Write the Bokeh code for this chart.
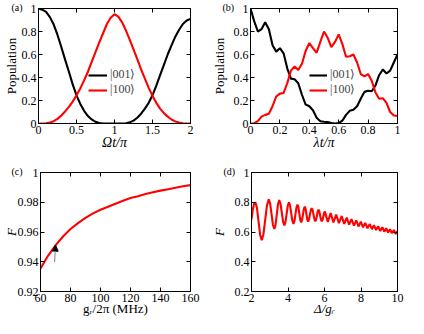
from bokeh.plotting import figure
from bokeh.layouts import column, row
from bokeh.models import (Range1d, LinearAxis, FixedTicker, Legend,
                          LegendItem, Arrow, NormalHead)
from bokeh.embed import file_html
from bokeh.resources import INLINE

SERIF = "Liberation Serif"
RED = "#ff0000"

# ---------------- data ----------------
# (a) population vs Omega t / pi
a_t = [0.00, 0.05, 0.10, 0.15, 0.20, 0.25, 0.30, 0.35, 0.40, 0.45, 0.50,
       0.55, 0.60, 0.65, 0.70, 0.75, 0.80, 0.85, 0.90, 0.95, 1.00,
       1.05, 1.10, 1.15, 1.20, 1.25, 1.30, 1.35, 1.40, 1.45, 1.50,
       1.55, 1.60, 1.65, 1.70, 1.75, 1.80, 1.85, 1.90, 1.95, 2.00]
a_001 = [1.00, 0.99, 0.97, 0.925, 0.86, 0.77, 0.665, 0.555, 0.45, 0.34, 0.245,
         0.17, 0.11, 0.065, 0.035, 0.015, 0.005, 0.0, 0.0, 0.0, 0.0,
         0.0, 0.0, 0.002, 0.01, 0.025, 0.05, 0.085, 0.13, 0.18, 0.245,
         0.33, 0.42, 0.51, 0.60, 0.68, 0.755, 0.815, 0.865, 0.895, 0.91]
a_100 = [0.0, 0.0, 0.002, 0.008, 0.02, 0.04, 0.07, 0.105, 0.145, 0.19, 0.245,
         0.305, 0.375, 0.45, 0.535, 0.62, 0.705, 0.785, 0.865, 0.92, 0.95,
         0.93, 0.88, 0.81, 0.73, 0.645, 0.56, 0.47, 0.39, 0.31, 0.24,
         0.18, 0.13, 0.09, 0.06, 0.035, 0.018, 0.008, 0.002, 0.0, 0.0]

# (b) population vs lambda t / pi
b_t = [0.000, 0.025, 0.050, 0.075, 0.100, 0.125, 0.150, 0.175, 0.200, 0.225,
       0.250, 0.275, 0.300, 0.325, 0.350, 0.375, 0.400, 0.425, 0.450, 0.475,
       0.500, 0.525, 0.550, 0.575, 0.600, 0.625, 0.650, 0.675, 0.700, 0.725,
       0.750, 0.775, 0.800, 0.825, 0.850, 0.875, 0.900, 0.925, 0.950, 0.975,
       1.000]
b_001 = [1.00, 0.89, 0.80, 0.82, 0.88, 0.82, 0.68, 0.625, 0.655, 0.61,
         0.48, 0.39, 0.385, 0.35, 0.25, 0.165, 0.15, 0.115, 0.05, 0.02,
         0.015, 0.012, 0.004, 0.0, 0.003, 0.025, 0.075, 0.11, 0.12, 0.15,
         0.215, 0.275, 0.285, 0.28, 0.33, 0.42, 0.47, 0.435, 0.46, 0.53,
         0.60]
b_100 = [0.0, 0.002, 0.02, 0.06, 0.075, 0.085, 0.15, 0.235, 0.26, 0.265,
         0.35, 0.46, 0.495, 0.465, 0.52, 0.63, 0.70, 0.655, 0.615, 0.71,
         0.80, 0.745, 0.665, 0.71, 0.775, 0.69, 0.58, 0.585, 0.60, 0.53,
         0.43, 0.41, 0.43, 0.37, 0.27, 0.215, 0.22, 0.18, 0.10, 0.07,
         0.065]

# (c) fidelity vs g_r / 2pi (MHz)
c_g = [60, 65, 70, 75, 80, 85, 90, 95, 100, 105, 110,
       115, 120, 125, 130, 135, 140, 145, 150, 155, 160]
c_F = [0.9355, 0.944, 0.951, 0.957, 0.962, 0.966, 0.9695, 0.9725, 0.975, 0.977, 0.979,
       0.981, 0.9828, 0.984, 0.9855, 0.9867, 0.9878, 0.9888, 0.9898, 0.9907, 0.9915]

# (d) fidelity vs Delta / g_r
d_D = [2.00, 2.07, 2.14, 2.21, 2.2975, 2.385, 2.4725, 2.56, 2.656, 2.7525, 2.849, 2.945,
       3.021, 3.0975, 3.174, 3.25, 3.3175, 3.385, 3.4525, 3.52, 3.59, 3.66, 3.73, 3.80,
       3.8625, 3.925, 3.9875, 4.05, 4.1125, 4.175, 4.2375, 4.30, 4.355, 4.41, 4.465, 4.52,
       4.57, 4.62, 4.67, 4.72, 4.77, 4.82, 4.87, 4.92, 4.965, 5.01, 5.055, 5.10,
       5.15, 5.20, 5.25, 5.30, 5.35, 5.40, 5.45, 5.50, 5.5425, 5.585, 5.6275, 5.67,
       5.715, 5.76, 5.805, 5.85, 5.8925, 5.935, 5.9775, 6.02,
       6.18, 6.34, 6.49, 6.64, 6.79, 6.94, 7.08, 7.22, 7.35, 7.48, 7.61, 7.74,
       7.865, 7.99, 8.11, 8.23, 8.355, 8.48, 8.595, 8.71, 8.825, 8.94, 9.055, 9.17,
       9.275, 9.38, 9.485, 9.59, 9.695, 9.80, 9.90, 10.0]
d_F = [0.685, 0.75, 0.788, 0.80, 0.763, 0.6725, 0.582, 0.545, 0.585, 0.6825, 0.78, 0.82,
       0.791, 0.72, 0.649, 0.62, 0.648, 0.7175, 0.787, 0.815, 0.79, 0.73, 0.67, 0.645,
       0.668, 0.7225, 0.777, 0.80, 0.779, 0.7275, 0.676, 0.655, 0.674, 0.72, 0.766, 0.785,
       0.767, 0.725, 0.683, 0.665, 0.68, 0.7175, 0.755, 0.77, 0.755, 0.72, 0.685, 0.67,
       0.683, 0.715, 0.747, 0.76, 0.747, 0.716, 0.685, 0.672, 0.683, 0.711, 0.739, 0.75,
       0.739, 0.711, 0.683, 0.672, 0.681, 0.7045, 0.728, 0.737,
       0.668, 0.727, 0.664, 0.717, 0.66, 0.707, 0.655, 0.697, 0.649, 0.687, 0.643, 0.678,
       0.637, 0.669, 0.631, 0.661, 0.625, 0.653, 0.619, 0.646, 0.613, 0.639, 0.607, 0.632,
       0.602, 0.625, 0.597, 0.619, 0.592, 0.613, 0.587, 0.606]

# tick values and labels
a_xticks = [0, 0.5, 1, 1.5, 2]
a_xlabels = ["0", "0.5", "1", "1.5", "2"]
pop_yticks = [0, 0.2, 0.4, 0.6, 0.8, 1]
pop_ylabels = ["0", "0.2", "0.4", "0.6", "0.8", "1"]
b_xticks = [0, 0.2, 0.4, 0.6, 0.8, 1]
b_xlabels = ["0", "0.2", "0.4", "0.6", "0.8", "1"]
c_xticks = [60, 80, 100, 120, 140, 160]
c_xlabels = ["60", "80", "100", "120", "140", "160"]
c_yticks = [0.92, 0.94, 0.96, 0.98, 1]
c_ylabels = ["0.92", "0.94", "0.96", "0.98", "1"]
d_xticks = [2, 4, 6, 8, 10]
d_xlabels = ["2", "4", "6", "8", "10"]
d_yticks = [0.2, 0.4, 0.6, 0.8, 1]
d_ylabels = ["0.2", "0.4", "0.6", "0.8", "1"]


def make_fig(w, h, bl, br, bt, bb, xr, yr, xt, xl, yt, yl, panel, poff,
             xlab, xstyle, xsize, xstand, ylab, ystyle, ysize, ystand):
    p = figure(width=w, height=h, output_backend="svg", toolbar_location=None,
               x_range=Range1d(*xr), y_range=Range1d(*yr),
               x_axis_type=None, y_axis_type=None,
               min_border_left=bl, min_border_right=br,
               min_border_top=bt, min_border_bottom=bb)
    p.outline_line_color = "black"
    p.background_fill_color = "white"
    p.border_fill_color = "white"
    # panel letter
    p.title.text = panel
    p.title.align = "left"
    p.title.offset = poff
    p.title.standoff = -8
    p.title.text_font = SERIF
    p.title.text_font_size = "10px"
    p.title.text_font_style = "normal"
    p.title.text_color = "black"
    for side in ("below", "above", "left", "right"):
        horiz = side in ("below", "above")
        ticks = xt if horiz else yt
        labels = xl if horiz else yl
        ax = LinearAxis(ticker=FixedTicker(ticks=ticks, minor_ticks=[]))
        ax.major_tick_in = 4
        ax.major_tick_out = 0
        ax.minor_tick_line_color = None
        ax.axis_line_color = "black"
        ax.major_tick_line_color = "black"
        if side in ("below", "left"):
            ax.major_label_overrides = {t: s for t, s in zip(ticks, labels)}
            ax.major_label_text_font = SERIF
            ax.major_label_text_color = "black"
            ax.major_label_text_font_size = "12px"
            ax.major_label_standoff = 2
            ax.axis_label = xlab if horiz else ylab
            ax.axis_label_text_font = SERIF
            ax.axis_label_text_color = "black"
            ax.axis_label_text_font_style = xstyle if horiz else ystyle
            ax.axis_label_text_font_size = xsize if horiz else ysize
            ax.axis_label_standoff = xstand if horiz else ystand
        else:
            ax.major_label_text_font_size = "0px"
            ax.major_label_text_color = None
            ax.major_label_standoff = 0
        p.add_layout(ax, side)
    return p


def add_legend(p, r1, r2, loc, gw):
    leg = Legend(items=[LegendItem(label="|001⟩", renderers=[r1]),
                        LegendItem(label="|100⟩", renderers=[r2])],
                 location=loc, padding=0, margin=0, spacing=0,
                 glyph_width=gw, glyph_height=14, label_height=14,
                 label_standoff=3, label_text_font=SERIF,
                 label_text_font_size="12px",
                 background_fill_alpha=0, border_line_color=None)
    p.add_layout(leg)


LW = 2.1

# (a)
pa = make_fig(208, 152, 34, 18, 8, 29, (0, 2), (0, 1),
              a_xticks, a_xlabels, pop_yticks, pop_ylabels, "(a)", -27,
              "Ωt/π", "italic", "14px", -2, "Population", "normal", "13px", 0)
ra1 = pa.line(a_t, a_001, line_color="black", line_width=LW)
ra2 = pa.line(a_t, a_100, line_color=RED, line_width=LW)
add_legend(pa, ra1, ra2, (50, 26), 19)

# (b)
pb = make_fig(200, 152, 37, 11, 8, 29, (0, 1), (0, 1),
              b_xticks, b_xlabels, pop_yticks, pop_ylabels, "(b)", -28,
              "λt/π", "italic", "14px", -2, "Population", "normal", "13px", 4)
rb1 = pb.line(b_t, b_001, line_color="black", line_width=LW)
rb2 = pb.line(b_t, b_100, line_color=RED, line_width=LW)
add_legend(pb, rb1, rb2, (59, 26), 18)

# (c)
pc = make_fig(208, 166, 34, 18, 20, 26, (60, 160), (0.92, 1.0),
              c_xticks, c_xlabels, c_yticks, c_ylabels, "(c)", -29,
              "gᵣ/2π (MHz)", "normal", "13px", -4, "F", "italic", "13px", -4)
pc.line(c_g, c_F, line_color=RED, line_width=LW)
pc.add_layout(Arrow(end=NormalHead(size=6, fill_color="black",
                                   line_color="black", line_width=1),
                    x_start=69.4, y_start=0.9398, x_end=70.0, y_end=0.9512,
                    line_color="#808080", line_width=1))

# (d)
pd = make_fig(200, 166, 37, 11, 20, 26, (2, 10), (0.2, 1.0),
              d_xticks, d_xlabels, d_yticks, d_ylabels, "(d)", -28,
              "Δ/gᵣ", "italic", "13px", -4, "F", "italic", "13px", 5)
pd.line(d_D, d_F, line_color=RED, line_width=LW)

layout = column(row(pa, pb), row(pc, pd))

open("out.html", "w").write(file_html(layout, INLINE))
